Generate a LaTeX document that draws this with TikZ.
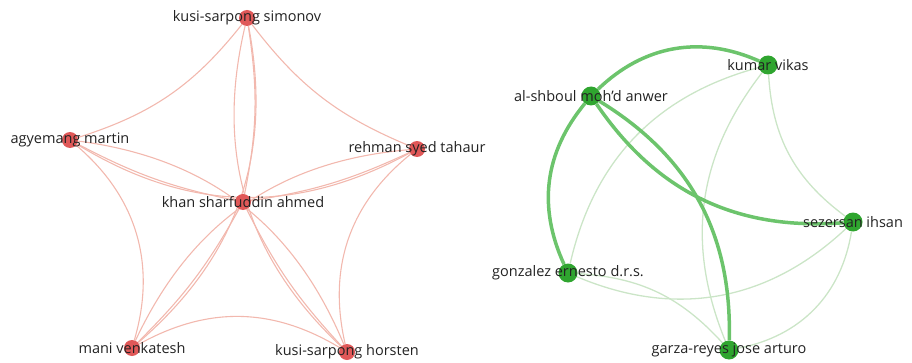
\documentclass[tikz,border=0pt]{standalone}
\usepackage{fontspec}
\setmainfont{Open Sans}
\usepackage{tikz}
\usetikzlibrary{positioning,backgrounds}
\usepackage{xcolor}
\definecolor{rednode}{HTML}{E05858}
\definecolor{redlink}{HTML}{F2B8AE}
\definecolor{greennode}{HTML}{2FA52F}
\definecolor{greenthick}{HTML}{6CC46C}
\definecolor{greenthin}{HTML}{CBE5C7}
\definecolor{labeltext}{HTML}{222222}
\tikzset{
  rnode/.style={circle,fill=rednode,inner sep=0pt,minimum size=16pt},
  gnode/.style={circle,fill=greennode,inner sep=0pt,minimum size=19pt},
  authortext/.style={text=labeltext,inner sep=0pt,font=\fontsize{14.5}{16}\selectfont},
  rlink/.style={draw=redlink,line width=1.1pt},
  gthin/.style={draw=greenthin,line width=1.3pt},
  gthick/.style={draw=greenthick,line width=3.5pt}
}
\begin{document}
\begin{tikzpicture}[x=1pt,y=1pt]
\useasboundingbox (0,0) rectangle (912,362);

\node[rnode,label={[authortext]center:kusi-sarpong simonov}] (simonov) at (247,344) {};
\node[rnode,label={[authortext]center:agyemang martin}] (agyemang) at (70,222) {};
\node[rnode,label={[authortext]center:rehman syed tahaur}] (rehman) at (417,213) {};
\node[rnode,label={[authortext]center:khan sharfuddin ahmed}] (khan) at (243,160) {};
\node[rnode,label={[authortext]center:mani venkatesh}] (mani) at (132,14) {};
\node[rnode,label={[authortext]center:kusi-sarpong horsten}] (horsten) at (347,10) {};

\node[gnode,label={[authortext]center:al-shboul moh’d anwer}] (alshboul) at (591,266) {};
\node[gnode,label={[authortext]center:kumar vikas}] (kumar) at (768,297) {};
\node[gnode,label={[authortext]center:sezersan ihsan}] (sezersan) at (853,140) {};
\node[gnode,label={[authortext]center:gonzalez ernesto d.r.s.}] (gonzalez) at (568,89) {};
\node[gnode,label={[authortext]center:garza-reyes jose arturo}] (garza) at (729,12) {};

\begin{scope}[on background layer]
\draw[rlink] (simonov) to[bend left=17] (agyemang);
\draw[rlink] (agyemang) to[bend left=33] (mani);
\draw[rlink] (mani) to[bend left=30] (horsten);
\draw[rlink] (horsten) to[bend left=32] (rehman);
\draw[rlink] (rehman) to[bend left=15] (simonov);
\draw[rlink] (simonov) to[bend right=30] (horsten);
\draw[rlink] (simonov) to[bend left=30] (mani);
\draw[rlink] (agyemang) to[bend right=30] (rehman);
\draw[rlink] (agyemang) to[bend left=30] (horsten);
\draw[rlink] (rehman) to[bend right=30] (mani);
\draw[rlink] (khan) to[bend right=10] (simonov);
\draw[rlink] (khan) to[bend left=8] (agyemang);
\draw[rlink] (khan) to[bend right=8] (rehman);
\draw[rlink] (khan) to[bend left=8] (mani);
\draw[rlink] (khan) to[bend right=8] (horsten);

\draw[gthin] (kumar) to[bend right=31] (gonzalez);
\draw[gthin] (kumar) to[bend right=30] (garza);
\draw[gthin] (kumar) to[bend right=25] (sezersan);
\draw[gthin] (sezersan) to[bend left=33] (gonzalez);
\draw[gthin] (sezersan) to[bend left=35] (garza);
\draw[gthin] (gonzalez) to[bend left=22] (garza);
\draw[gthick] (alshboul) to[bend left=34] (kumar);
\draw[gthick] (alshboul) to[bend right=32] (gonzalez);
\draw[gthick] (alshboul) to[bend right=30] (sezersan);
\draw[gthick] (alshboul) to[bend left=30] (garza);
\end{scope}

\end{tikzpicture}
\end{document}
